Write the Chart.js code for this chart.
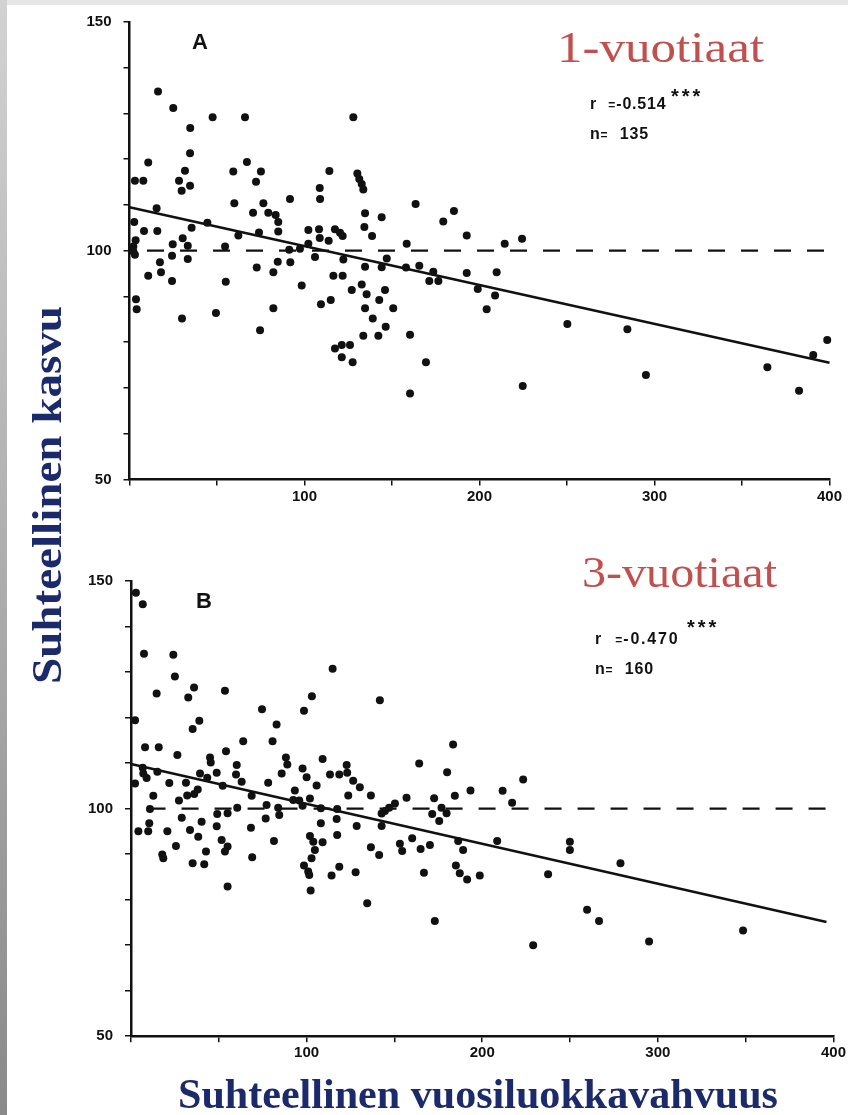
<!DOCTYPE html>
<html><head><meta charset="utf-8">
<script src="https://cdn.jsdelivr.net/npm/chart.js@4.4.1/dist/chart.umd.min.js"></script>
<style>
html,body{margin:0;padding:0;background:#fff;}
body{width:848px;height:1115px;position:relative;overflow:hidden;}
#frameL{position:absolute;left:0;top:0;width:7px;height:1115px;background:linear-gradient(#d2d2d2,#8a8a8a);}
#frameT{position:absolute;left:0;top:0;width:848px;height:5px;background:#e6e6e6;}
.cw{position:absolute;left:0;width:848px;height:520px;}
canvas{display:block;}
.note{position:absolute;font-family:'Liberation Sans',Arial,sans-serif;font-weight:bold;font-size:16px;line-height:16px;letter-spacing:0.8px;word-spacing:6px;color:#111;white-space:nowrap;}
.stars{position:absolute;font-family:'Liberation Sans',Arial,sans-serif;font-weight:bold;font-size:20px;line-height:20px;letter-spacing:3px;color:#111;white-space:nowrap;}
.eq{font-size:12px;letter-spacing:1px;}
.lab{position:absolute;font-family:'Liberation Sans',Arial,sans-serif;font-weight:bold;font-size:22px;line-height:22px;color:#111;}
svg{position:absolute;left:0;top:0;pointer-events:none;}
</style></head>
<body>
<div id="frameT"></div><div id="frameL"></div>
<div class="cw" style="top:0"><canvas id="cA" width="848" height="520"></canvas></div>
<div class="cw" style="top:560px"><canvas id="cB" width="848" height="520"></canvas></div>

<div class="lab" style="left:192px;top:31px">A</div>
<div class="lab" style="left:196px;top:590px">B</div>
<div class="note" style="left:590px;top:96px">r <span class="eq">=</span>-0.514</div>
<div class="stars" style="left:671px;top:86px">***</div>
<div class="note" style="left:590px;top:126px">n<span class="eq">=</span> 135</div>
<div class="note" style="left:595px;top:631px;letter-spacing:1.8px">r <span class="eq">=</span>-0.470</div>
<div class="stars" style="left:687px;top:617px">***</div>
<div class="note" style="left:595px;top:661px">n<span class="eq">=</span> 160</div>

<svg width="848" height="1115">
<text x="557" y="62" font-family="Liberation Serif, serif" font-size="44" fill="#c0504d" textLength="207" lengthAdjust="spacingAndGlyphs">1-vuotiaat</text>
<text x="582" y="587" font-family="Liberation Serif, serif" font-size="44" fill="#c0504d" textLength="195" lengthAdjust="spacingAndGlyphs">3-vuotiaat</text>
<text x="178" y="1108" font-family="Liberation Serif, serif" font-weight="bold" font-size="42" fill="#1b2a6b" textLength="600" lengthAdjust="spacingAndGlyphs">Suhteellinen vuosiluokkavahvuus</text>
<text transform="translate(61,684) rotate(-90)" font-family="Liberation Serif, serif" font-weight="bold" font-size="42" fill="#1b2a6b" textLength="378" lengthAdjust="spacingAndGlyphs">Suhteellinen kasvu</text>
</svg>

<script>
// ---- data ----
const xTickLabels = [100, 200, 300, 400];
const yTickLabels = [50, 100, 150];

// Panel A: 1-vuotiaat
const aX = [16.3,25.0,47.5,66.0,127.9,34.7,34.6,10.7,67.1,31.7,59.3,75.1,114.2,130.2,131.3,132.7,133.6,3.1,7.9,28.3,34.6,29.8,72.3,108.7,91.7,108.9,59.9,76.5,15.5,70.6,79.3,83.5,85.0,134.6,144.1,2.7,44.5,134.2,8.3,15.9,35.5,74.0,85.0,108.3,117.4,120.3,121.8,62.2,138.6,102.2,108.7,113.8,30.4,3.5,24.7,33.3,54.6,2.2,2.2,3.1,91.3,97.4,102.2,24.3,33.3,17.4,84.7,91.9,106.0,122.2,147.0,72.7,134.6,144.1,158.0,158.4,165.6,173.6,171.3,176.5,192.7,199.0,10.7,18.0,82.2,116.5,121.8,24.3,55.0,98.4,132.7,127.0,135.5,146.0,142.7,3.7,4.1,109.4,115.0,82.2,134.6,150.7,49.4,30.0,139.0,146.4,74.6,133.6,142.2,160.3,117.4,121.3,126.0,121.3,127.5,169.4,160.3,163.5,185.4,179.3,192.7,214.4,224.3,209.8,208.9,204.1,250.2,284.5,224.7,295.1,364.5,382.6,390.7,398.7];
const aY = [134.8,131.2,129.2,129.2,129.2,126.8,121.3,119.3,119.4,117.5,117.3,117.3,117.4,116.9,115.7,114.6,113.4,115.3,115.3,115.3,114.2,113.1,115.1,113.7,111.3,111.3,110.4,110.4,109.3,108.3,108.3,107.8,106.3,108.2,107.3,106.3,106.1,105.2,104.3,104.3,105.0,104.0,104.2,104.7,104.7,103.9,103.2,103.3,103.2,104.5,102.8,102.2,102.7,102.3,101.4,101.1,100.9,100.9,99.8,99.1,100.2,100.4,101.5,98.9,98.2,97.5,97.6,97.5,98.6,98.1,98.3,96.3,96.5,96.4,96.3,101.5,96.7,95.4,93.4,93.4,95.1,91.6,94.5,95.3,95.3,94.5,94.5,93.4,93.2,92.4,92.6,91.4,90.5,91.4,89.2,89.4,87.2,88.3,89.2,87.4,87.4,87.4,86.4,85.2,85.2,83.4,82.6,81.4,81.4,81.6,78.6,79.4,79.4,76.7,75.6,75.6,68.8,110.2,108.7,106.4,103.3,101.5,102.6,95.3,90.2,87.2,84.0,82.8,70.4,72.8,74.5,69.4,77.2,80.5];
const aFitX = [0, 400];
const aFitY = [109.5, 75.5];
const aRefX = [10, 402];
const aRefY = [100, 100];

// Panel B: 3-vuotiaat
const bX = [2.8,6.7,7.4,24.1,25.0,14.6,32.6,35.9,53.5,114.8,141.7,103.0,98.5,74.6,82.9,2.3,38.9,35.1,80.6,63.9,54.1,8.0,15.8,26.4,45.0,45.4,6.7,7.0,15.0,39.3,48.8,60.2,59.8,63.0,88.2,89.0,85.8,97.7,100.0,109.1,113.3,118.6,122.8,123.1,2.3,8.9,21.8,31.3,43.4,52.2,78.1,105.7,126.5,130.3,136.6,183.4,164.1,180.0,193.3,184.4,172.6,176.8,171.5,179.7,175.5,12.7,27.3,32.0,36.0,38.0,68.7,93.3,92.4,95.8,101.9,123.7,156.9,150.3,147.0,144.6,142.7,142.7,10.8,10.4,28.9,60.5,77.2,83.8,84.4,76.7,55.0,49.1,97.7,108.1,117.4,117.1,9.8,4.2,20.7,33.6,40.2,48.8,68.3,108.1,128.5,38.3,51.6,55.0,53.5,25.6,42.7,17.8,18.4,35.1,41.7,69.0,81.4,101.9,103.8,109.1,104.7,102.8,98.5,100.9,101.5,102.3,117.4,114.2,118.6,127.9,136.6,141.3,153.1,154.4,160.1,164.9,170.2,166.8,186.3,189.1,185.0,187.2,191.4,198.6,55.0,134.5,173.0,211.6,223.3,217.0,208.5,249.9,249.9,237.5,278.7,229.0,259.7,266.5,295.0,348.5];
const bY = [147.4,144.9,134.0,133.8,129.0,125.3,124.4,126.6,125.9,130.7,123.8,124.7,121.5,121.8,118.5,119.4,119.3,117.5,114.8,114.8,112.6,113.5,113.5,111.8,111.2,110.1,109.0,107.7,108.1,107.7,107.9,109.6,107.5,105.9,111.2,109.7,107.7,108.8,106.9,110.9,107.5,107.5,109.6,107.9,105.5,106.7,105.6,105.7,106.8,105.0,105.7,105.1,106.1,104.7,102.9,114.1,109.9,108.0,104.0,102.8,102.3,100.2,98.8,99.0,97.3,102.8,101.8,102.9,103.2,104.2,102.8,104.0,101.9,101.8,102.2,102.9,102.4,101.1,100.2,99.5,98.9,96.2,99.9,96.8,98.0,100.2,100.8,100.2,98.6,97.8,99.0,98.8,100.6,100.1,99.9,97.7,95.0,95.0,95.0,95.3,97.1,96.1,95.8,96.8,96.2,93.8,93.1,91.7,90.6,91.8,90.6,89.9,89.1,88.0,87.8,89.3,92.9,94.0,92.7,92.6,90.9,89.1,87.5,86.2,85.4,82.0,94.2,85.3,87.2,86.0,91.5,89.8,92.3,90.7,93.5,91.1,92.0,85.9,92.9,90.9,87.5,85.8,84.4,85.3,82.9,79.2,75.3,103.9,106.4,101.3,92.9,92.7,90.9,85.6,88.0,70.0,77.8,75.3,70.8,73.2];
const bFitX = [0, 396];
const bFitY = [109.8, 75.1];
const bRefX = [10, 399];
const bRefY = [100, 100];

// ---- drawing ----
const INK = '#111';
const tickFont = {family: "'Liberation Sans',Arial,sans-serif", size: 15, weight: 'bold'};
const zip = (xs, ys) => xs.map((x, i) => ({x: x, y: ys[i]}));

function makeChart(id, xs, ys, fitX, fitY, refX, refY, g) {
  return new Chart(document.getElementById(id), {
    type: 'scatter',
    data: {
      datasets: [
        {data: zip(xs, ys), pointRadius: 4, pointBackgroundColor: INK, pointBorderWidth: 0, clip: false, order: 0},
        {type: 'line', data: zip(fitX, fitY), borderColor: INK, borderWidth: 2.5, pointRadius: 0, fill: false, clip: false, order: 1},
        {type: 'line', data: zip(refX, refY), borderColor: INK, borderWidth: 2.2, borderDash: [17, 16], pointRadius: 0, fill: false, clip: false, order: 2}
      ]
    },
    options: {
      responsive: false, animation: false, devicePixelRatio: 1,
      layout: {padding: {top: g.top, right: g.right, bottom: 0, left: 0}},
      plugins: {legend: {display: false}, tooltip: {enabled: false}},
      scales: {
        x: {
          type: 'linear', min: 0, max: 400,
          afterFit: s => { s.height = g.xh; },
          border: {display: true, color: INK, width: 2.5},
          grid: {display: true, drawOnChartArea: false, drawTicks: true, tickLength: 6, color: INK, lineWidth: 1.5},
          ticks: {stepSize: 50, autoSkip: false, maxRotation: 0, padding: 2, color: INK, font: tickFont,
                  callback: v => xTickLabels.includes(v) ? String(v) : ''}
        },
        y: {
          type: 'linear', min: 50, max: 150,
          afterFit: s => { s.width = g.yw; },
          border: {display: true, color: INK, width: 2.5},
          grid: {display: true, drawOnChartArea: false, drawTicks: true, tickLength: 6, color: INK, lineWidth: 1.5},
          ticks: {stepSize: 10, autoSkip: false, padding: 12, color: INK, font: tickFont,
                  callback: v => yTickLabels.includes(v) ? String(v) : ''}
        }
      }
    }
  });
}

makeChart('cA', aX, aY, aFitX, aFitY, aRefX, aRefY, {top: 22, right: 18.5, xh: 40.6, yw: 129.5});
makeChart('cB', bX, bY, bFitX, bFitY, bRefX, bRefY, {top: 19.2, right: 14, xh: 43.8, yw: 131});
</script>
</body></html>
